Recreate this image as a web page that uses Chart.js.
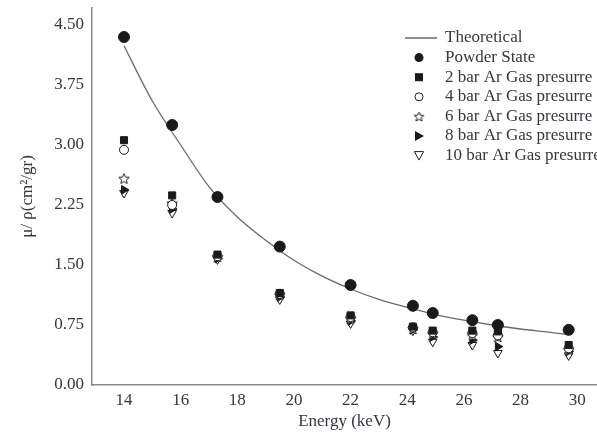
<!DOCTYPE html>
<html>
<head>
<meta charset="utf-8">
<script src="https://cdn.jsdelivr.net/npm/chart.js@4.4.1/dist/chart.umd.min.js"></script>
<style>
html,body{margin:0;padding:0;background:#fff;}
#wrap{width:597px;height:434px;position:relative;}
</style>
</head>
<body>
<div id="wrap"><canvas id="c" width="597" height="434"></canvas></div>
<script>
// ---- data ----
const energy = [14.0, 15.7, 17.3, 19.5, 22.0, 24.2, 24.9, 26.3, 27.2, 29.7];
const powderState = [4.35, 3.25, 2.35, 1.73, 1.25, 0.99, 0.90, 0.81, 0.75, 0.69];
const bar2 = [3.06, 2.37, 1.63, 1.15, 0.87, 0.73, 0.68, 0.68, 0.67, 0.50];
const bar4 = [2.94, 2.25, 1.61, 1.14, 0.85, 0.72, 0.66, 0.65, 0.62, 0.46];
const bar6 = [2.58, 2.27, 1.60, 1.13, 0.83, 0.70, 0.64, 0.62, 0.60, 0.44];
const bar8 = [2.44, 2.20, 1.58, 1.10, 0.80, 0.69, 0.60, 0.56, 0.48, 0.42];
const bar10 = [2.40, 2.15, 1.57, 1.07, 0.77, 0.68, 0.54, 0.50, 0.40, 0.37];
const theoEnergy = [14, 15, 16, 17, 18, 19, 20, 21, 22, 23, 24, 25, 26, 27, 28, 29, 29.7];
const theoValues = [4.24, 3.55, 3.00, 2.48, 2.10, 1.81, 1.56, 1.36, 1.20, 1.07, 0.97, 0.88, 0.81, 0.75, 0.70, 0.66, 0.63];
const xTicks = [14, 16, 18, 20, 22, 24, 26, 28, 30];
const yTicks = [0.00, 0.75, 1.50, 2.25, 3.00, 3.75, 4.50];
const labels = ["Theoretical", "Powder State", "2 bar Ar Gas presurre", "4 bar Ar Gas presurre",
  "6 bar Ar Gas presurre", "8 bar Ar Gas presurre", "10 bar Ar Gas presurre"];

function pts(xs, ys){ return xs.map((x,i)=>({x:x, y:ys[i]})); }

// five-point open star image
function makeStar(r){
  const c = document.createElement('canvas');
  const s = Math.ceil(r*2+3);
  c.width = s; c.height = s;
  const g = c.getContext('2d');
  g.translate(s/2, s/2+0.5);
  g.beginPath();
  for (let i=0;i<10;i++){
    const rr = i%2===0 ? r : r*0.45;
    const a = -Math.PI/2 + i*Math.PI/5;
    const px = rr*Math.cos(a), py = rr*Math.sin(a);
    if(i===0) g.moveTo(px,py); else g.lineTo(px,py);
  }
  g.closePath();
  g.fillStyle = '#fff'; g.fill();
  g.lineWidth = 1; g.strokeStyle = '#222'; g.stroke();
  return c;
}
const starImg = makeStar(5.5);
const starImgSmall = makeStar(5);

const ink = '#1a1a1a';
const txt = '#3a3440';
const FONT = '"Liberation Serif", "Times New Roman", serif';

const datasets = [
  {label: labels[1], data: pts(energy, powderState), pointStyle:'circle', pointRadius:5.5,
   backgroundColor: ink, borderColor: ink, borderWidth:1, showLine:false},
  {label: labels[2], data: pts(energy, bar2), pointStyle:'rect', pointRadius:5,
   backgroundColor: ink, borderColor: ink, borderWidth:1, showLine:false},
  {label: labels[3], data: pts(energy, bar4), pointStyle:'circle', pointRadius:4.5,
   backgroundColor: '#fff', borderColor: ink, borderWidth:1, showLine:false},
  {label: labels[4], data: pts(energy, bar6), pointStyle: starImg, pointRadius:5,
   backgroundColor: '#fff', borderColor: ink, borderWidth:1, showLine:false},
  {label: labels[5], data: pts(energy, bar8), pointStyle:'triangle', rotation:90, pointRadius:5,
   backgroundColor: ink, borderColor: ink, borderWidth:1, showLine:false},
  {label: labels[6], data: pts(energy, bar10), pointStyle:'triangle', rotation:180, pointRadius:5,
   backgroundColor: '#fff', borderColor: ink, borderWidth:1, showLine:false},
  {label: labels[0], type:'line', data: pts(theoEnergy, theoValues), pointRadius:0,
   borderColor:'#6a6a6a', borderWidth:1.3, tension:0.4, cubicInterpolationMode:'monotone', fill:false, order: 10}
];

const legendPlugin = {
  id: 'insideLegend',
  afterDraw(chart){
    const g = chart.ctx;
    g.save();
    const x0 = 405, xText = 445, yStart = 38, step = 19.6;
    g.font = '17px ' + FONT;
    g.textBaseline = 'middle';
    labels.forEach((lab, i) => {
      const y = yStart + i*step;
      g.fillStyle = txt;
      g.fillText(lab, xText, y);
      const mx = 419;
      g.lineWidth = 1;
      g.strokeStyle = ink;
      if (i===0){
        g.beginPath(); g.moveTo(x0, y); g.lineTo(437, y);
        g.strokeStyle = '#444'; g.lineWidth = 1.2; g.stroke();
      } else if (i===1){
        g.beginPath(); g.arc(mx, y, 4.5, 0, Math.PI*2); g.fillStyle = ink; g.fill();
      } else if (i===2){
        g.fillStyle = ink; g.fillRect(mx-4, y-4, 8, 8);
      } else if (i===3){
        g.beginPath(); g.arc(mx, y, 4, 0, Math.PI*2); g.fillStyle='#fff'; g.fill(); g.stroke();
      } else if (i===4){
        g.drawImage(starImgSmall, mx - starImgSmall.width/2, y - starImgSmall.height/2);
      } else if (i===5){
        g.beginPath(); g.moveTo(mx-4, y-5); g.lineTo(mx+5, y); g.lineTo(mx-4, y+5); g.closePath();
        g.fillStyle = ink; g.fill();
      } else if (i===6){
        g.beginPath(); g.moveTo(mx-4.5, y-4); g.lineTo(mx+4.5, y-4); g.lineTo(mx, y+4.5); g.closePath();
        g.fillStyle='#fff'; g.fill(); g.stroke();
      }
    });
    g.restore();
  }
};

new Chart(document.getElementById('c'), {
  type: 'scatter',
  data: { datasets: datasets },
  options: {
    responsive: false,
    animation: false,
    devicePixelRatio: 1,
    layout: { autoPadding: false, padding: { top: 8, right: 0, left: 0, bottom: 0 } },
    plugins: { legend: { display:false }, tooltip: { enabled:false } },
    scales: {
      x: {
        type: 'linear', min: 12.87, max: 30.7,
        afterBuildTicks: (s) => { s.ticks = xTicks.map(v => ({value: v})); },
        afterFit: (s) => { s.height = 49; s.paddingLeft = 0; s.paddingRight = 0; },
        grid: { display:false, drawTicks:false },
        border: { display:true, color:'#8a8a8a', width:1.5 },
        ticks: { padding: 5, color: txt, font: { family: FONT, size: 17 },
                 callback: (v) => String(v) },
        title: { display:true, text:'Energy (keV)', color: txt,
                 font: { family: FONT, size: 17 }, padding: { top: 0, bottom: 2 } }
      },
      y: {
        type: 'linear', min: 0, max: 4.7125,
        afterBuildTicks: (s) => { s.ticks = yTicks.map(v => ({value: v})); },
        afterFit: (s) => { s.width = 92; s.paddingTop = 0; s.paddingBottom = 0; },
        grid: { display:false, drawTicks:false },
        border: { display:true, color:'#8a8a8a', width:1.5 },
        ticks: { padding: 8, color: txt, font: { family: FONT, size: 17 },
                 callback: (v) => Number(v).toFixed(2) },
        title: { display:true, text:'μ/ ρ(cm²/gr)', color: txt,
                 font: { family: FONT, size: 17 }, padding: { top: 17, bottom: 0 } }
      }
    }
  },
  plugins: [legendPlugin]
});
</script>
</body>
</html>
